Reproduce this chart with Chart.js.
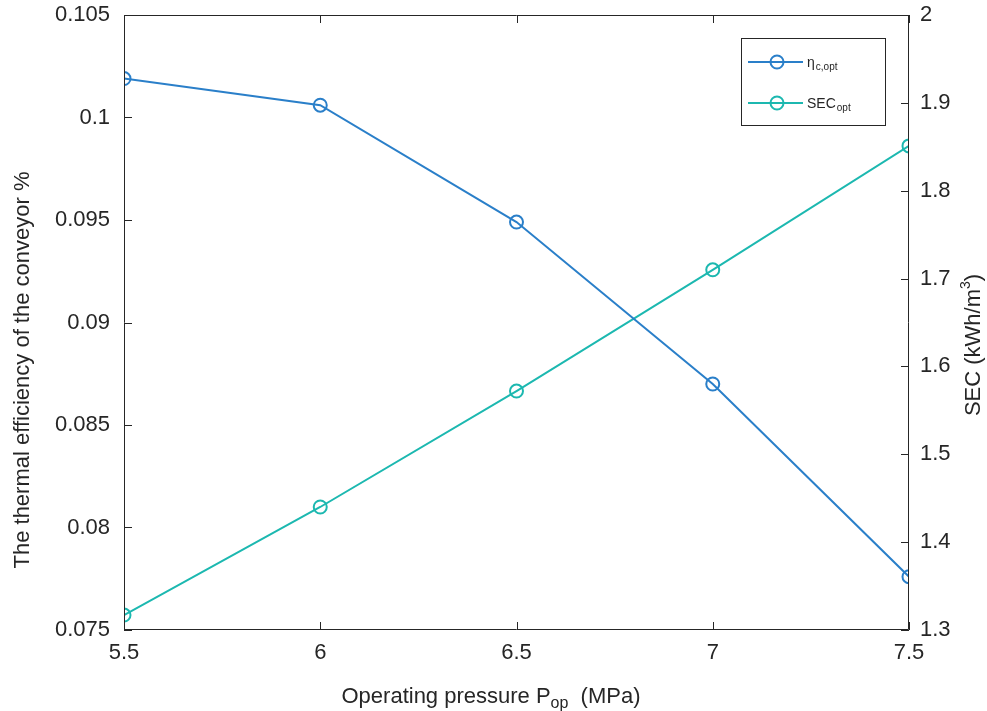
<!DOCTYPE html>
<html>
<head>
<meta charset="utf-8">
<script src="https://cdn.jsdelivr.net/npm/chart.js@4/dist/chart.umd.min.js"></script>
<style>
html,body{margin:0;padding:0;background:#fff;}
#wrap{width:987px;height:711px;position:relative;}
</style>
</head>
<body>
<div id="wrap"><canvas id="c" width="987" height="711"></canvas></div>
<script>
// ---- data ----
const pressure = [5.5, 6, 6.5, 7, 7.5];
const etaOpt = [0.1019, 0.1006, 0.0949, 0.0870, 0.0776];
const secOpt = [1.317, 1.440, 1.572, 1.710, 1.851];
const xTicks = [5.5, 6, 6.5, 7, 7.5];
const leftTicks = [0.075, 0.08, 0.085, 0.09, 0.095, 0.1, 0.105];
const rightTicks = [1.3, 1.4, 1.5, 1.6, 1.7, 1.8, 1.9, 2];

const C_ETA = '#2a7fc9';
const C_SEC = '#1cb8b0';
const AX = '#262626';
const FONT = '"Liberation Sans", Arial, sans-serif';

function fmt(v){ return String(+v.toFixed(4)); }

const framePlugin = {
  id: 'frame',
  afterDatasetsDraw(chart){
    const {ctx, chartArea:a, scales} = chart;
    ctx.save();
    ctx.strokeStyle = AX;
    ctx.lineWidth = 1;
    ctx.beginPath();
    ctx.rect(a.left+0.5, a.top+0.5, a.right-a.left-1, a.bottom-a.top-1);
    ctx.stroke();
    const L = 8;
    ctx.beginPath();
    xTicks.forEach(v=>{
      const x = Math.round(scales.x.getPixelForValue(v))+0.5;
      ctx.moveTo(x, a.bottom); ctx.lineTo(x, a.bottom-L);
      ctx.moveTo(x, a.top); ctx.lineTo(x, a.top+L);
    });
    leftTicks.forEach(v=>{
      const y = Math.round(scales.y.getPixelForValue(v))+0.5;
      ctx.moveTo(a.left, y); ctx.lineTo(a.left+L, y);
    });
    rightTicks.forEach(v=>{
      const y = Math.round(scales.y1.getPixelForValue(v))+0.5;
      ctx.moveTo(a.right, y); ctx.lineTo(a.right-L, y);
    });
    ctx.stroke();

    // legend
    const lx = 741, ly = 38, lw = 144, lh = 87;
    ctx.fillStyle = '#fff';
    ctx.fillRect(lx, ly, lw, lh);
    ctx.strokeStyle = AX;
    ctx.strokeRect(lx+0.5, ly+0.5, lw, lh);
    const rows = [
      {color:C_ETA, main:'η', sub:'c,opt', y:62},
      {color:C_SEC, main:'SEC', sub:'opt', y:103}
    ];
    rows.forEach(r=>{
      ctx.strokeStyle = r.color;
      ctx.lineWidth = 2;
      ctx.beginPath();
      ctx.moveTo(748, r.y); ctx.lineTo(803, r.y);
      ctx.stroke();
      ctx.beginPath();
      ctx.arc(777, r.y, 6.5, 0, Math.PI*2);
      ctx.stroke();
      ctx.fillStyle = AX;
      ctx.textBaseline = 'alphabetic';
      ctx.textAlign = 'left';
      ctx.font = '14px ' + FONT;
      ctx.fillText(r.main, 807, r.y+5);
      const w = ctx.measureText(r.main).width;
      ctx.font = '10px ' + FONT;
      ctx.fillText(r.sub, 807+w+1, r.y+8);
    });

    // x title
    ctx.fillStyle = AX;
    ctx.textBaseline = 'alphabetic';
    ctx.textAlign = 'left';
    const parts = [
      {t:'Operating pressure P', f:22, dy:0},
      {t:'op', f:16, dy:5},
      {t:'  (MPa)', f:22, dy:0}
    ];
    let tw = 0;
    parts.forEach(p=>{ ctx.font = p.f+'px '+FONT; p.w = ctx.measureText(p.t).width; tw += p.w; });
    let x0 = 491 - tw/2;
    parts.forEach(p=>{ ctx.font = p.f+'px '+FONT; ctx.fillText(p.t, x0, 703+p.dy); x0 += p.w; });

    // right title
    ctx.save();
    ctx.translate(980, 345);
    ctx.rotate(-Math.PI/2);
    const rp = [
      {t:'SEC (kWh/m', f:22, dy:0},
      {t:'3', f:14, dy:-10},
      {t:')', f:22, dy:0}
    ];
    tw = 0;
    rp.forEach(p=>{ ctx.font = p.f+'px '+FONT; p.w = ctx.measureText(p.t).width; tw += p.w; });
    x0 = -tw/2;
    rp.forEach(p=>{ ctx.font = p.f+'px '+FONT; ctx.fillText(p.t, x0, p.dy); x0 += p.w; });
    ctx.restore();

    // left title
    ctx.save();
    ctx.translate(29, 370);
    ctx.rotate(-Math.PI/2);
    ctx.textAlign = 'center';
    ctx.font = '22px ' + FONT;
    ctx.fillText('The thermal efficiency of the conveyor %', 0, 0);
    ctx.restore();
    ctx.restore();
  }
};

new Chart(document.getElementById('c'), {
  type: 'line',
  data: {
    datasets: [
      {
        label: 'η c,opt',
        data: pressure.map((p,i)=>({x:p, y:etaOpt[i]})),
        yAxisID: 'y',
        borderColor: C_ETA,
        backgroundColor: 'rgba(0,0,0,0)',
        borderWidth: 2,
        pointRadius: 6.5,
        pointBorderWidth: 2,
        pointBackgroundColor: 'rgba(0,0,0,0)',
        pointBorderColor: C_ETA,
        tension: 0,
        clip: 0
      },
      {
        label: 'SEC opt',
        data: pressure.map((p,i)=>({x:p, y:secOpt[i]})),
        yAxisID: 'y1',
        borderColor: C_SEC,
        backgroundColor: 'rgba(0,0,0,0)',
        borderWidth: 2,
        pointRadius: 6.5,
        pointBorderWidth: 2,
        pointBackgroundColor: 'rgba(0,0,0,0)',
        pointBorderColor: C_SEC,
        tension: 0,
        clip: 0
      }
    ]
  },
  options: {
    responsive: false,
    animation: false,
    devicePixelRatio: 1,
    layout: { padding: { top: 15, left: 0, right: 0, bottom: 0 } },
    plugins: { legend: { display: false }, tooltip: { enabled: false } },
    scales: {
      x: {
        type: 'linear',
        min: 5.5, max: 7.5,
        afterBuildTicks(s){ s.ticks = xTicks.map(v=>({value:v})); },
        afterFit(s){ s.height = 81; s.paddingLeft = 0; s.paddingRight = 0; },
        grid: { display: false, drawTicks: false },
        border: { display: false },
        ticks: { color: AX, font: { family: FONT, size: 22 }, padding: 10, maxRotation: 0, callback: v=>fmt(v) }
      },
      y: {
        type: 'linear', position: 'left',
        min: 0.075, max: 0.105,
        afterBuildTicks(s){ s.ticks = leftTicks.map(v=>({value:v})); },
        afterFit(s){ s.width = 124; s.paddingTop = 0; s.paddingBottom = 0; },
        grid: { display: false, drawTicks: false },
        border: { display: false },
        ticks: { color: AX, font: { family: FONT, size: 22 }, padding: 14, callback: v=>fmt(v) }
      },
      y1: {
        type: 'linear', position: 'right',
        min: 1.3, max: 2,
        afterBuildTicks(s){ s.ticks = rightTicks.map(v=>({value:v})); },
        afterFit(s){ s.width = 78; s.paddingTop = 0; s.paddingBottom = 0; },
        grid: { display: false, drawTicks: false },
        border: { display: false },
        ticks: { color: AX, font: { family: FONT, size: 22 }, padding: 11, callback: v=>fmt(v) }
      }
    }
  },
  plugins: [framePlugin]
});
</script>
</body>
</html>
